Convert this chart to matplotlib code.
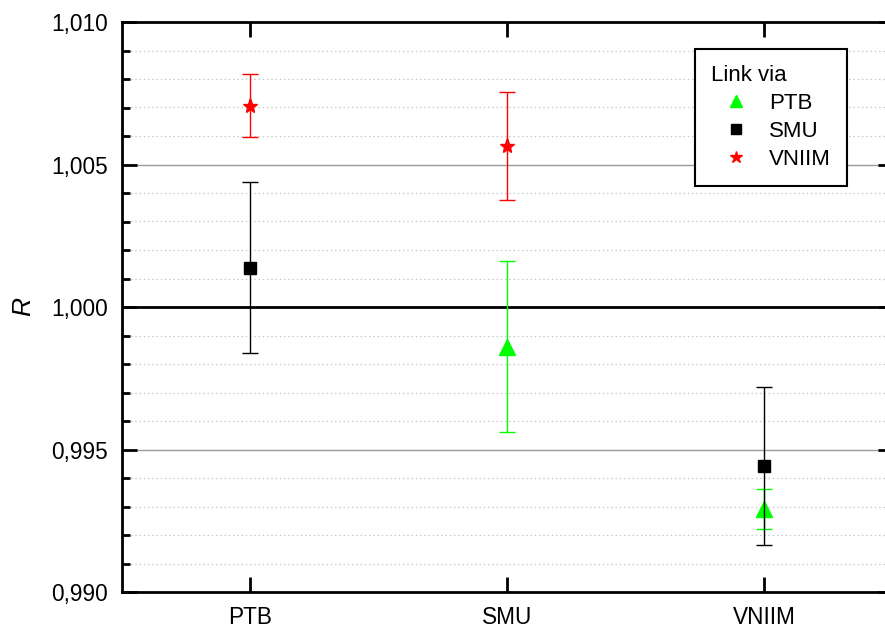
import numpy as np
import matplotlib.pyplot as plt
from matplotlib.ticker import FuncFormatter, MultipleLocator

plt.rcParams['font.family'] = ['Liberation Sans', 'DejaVu Sans']

categories = ['PTB', 'SMU', 'VNIIM']

# link via PTB (green triangles)
ptb_x = [1, 2]
ptb_val = [0.99860, 0.99292]
ptb_err = [0.00300, 0.00070]

# link via SMU (black squares)
smu_x = [0, 2]
smu_val = [1.00138, 0.99442]
smu_err = [0.00300, 0.00278]

# link via VNIIM (red stars)
vniim_x = [0, 1]
vniim_val = [1.00706, 1.00566]
vniim_err = [0.00110, 0.00190]

fig = plt.figure(figsize=(8.85, 6.28), dpi=100)
ax = fig.add_axes([122 / 885, 36 / 628, 770.5 / 885, 570 / 628])

ax.set_xlim(-0.5, 2.5)
ax.set_ylim(0.990, 1.010)

ax.yaxis.set_major_locator(MultipleLocator(0.005))
ax.yaxis.set_minor_locator(MultipleLocator(0.001))
ax.yaxis.set_major_formatter(FuncFormatter(lambda v, p: ('%.3f' % v).replace('.', ',')))
ax.set_xticks(range(len(categories)))
ax.set_xticklabels(categories)

# grid lines
for yv in np.arange(0.991, 1.010, 0.001):
    if abs(round(yv * 1000) % 5) == 0:
        continue
    ax.axhline(yv, color='#c8c8c8', lw=0.9, ls=(0, (1.2, 2.2)), zorder=0)
ax.axhline(0.995, color='#999999', lw=1.0, zorder=0)
ax.axhline(1.005, color='#999999', lw=1.0, zorder=0)
ax.axhline(1.000, color='black', lw=2.0, zorder=1)

ax.errorbar(ptb_x, ptb_val, yerr=ptb_err, fmt='^', color='#00ff00', ms=11,
            ecolor='#00ff00', elinewidth=1, capsize=5.5, capthick=1, label='PTB', zorder=3)
ax.errorbar(smu_x, smu_val, yerr=smu_err, fmt='s', color='black', ms=8.5,
            ecolor='black', elinewidth=1, capsize=5.5, capthick=1, label='SMU', zorder=4)
ax.errorbar(vniim_x, vniim_val, yerr=vniim_err, fmt='*', color='red', ms=11,
            ecolor='red', elinewidth=1, capsize=5.5, capthick=1, label='VNIIM', zorder=5)

for s in ax.spines.values():
    s.set_linewidth(2)

ax.tick_params(axis='both', which='major', direction='in', length=11, width=2,
               labelsize=16.3, top=True, right=True)
ax.tick_params(axis='y', which='major', pad=10)
ax.tick_params(axis='y', which='minor', direction='in', length=6, width=2, right=True)
ax.tick_params(axis='x', which='major', pad=10)

ax.set_ylabel('R', fontsize=19, style='italic', labelpad=12)

handles, labels = ax.get_legend_handles_labels()
handles = [h[0] for h in handles]
leg = ax.legend(handles, labels, title='Link via', loc='upper right',
                bbox_to_anchor=(847 / 885, 1 - 49 / 628), bbox_transform=fig.transFigure,
                fontsize=16, title_fontsize=16, fancybox=False, framealpha=1,
                edgecolor='black', handletextpad=0.36, borderpad=0.72,
                labelspacing=0.31, markerscale=0.85, handlelength=2.25,
                borderaxespad=0)
leg._legend_box.align = 'left'
leg.get_frame().set_linewidth(1.5)

fig.savefig('out.png', dpi=100)
